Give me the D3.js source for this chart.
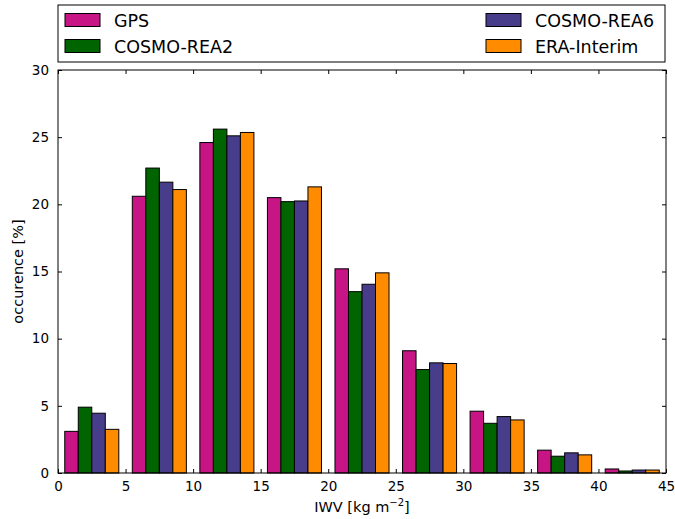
<!DOCTYPE html>
<html>
<head>
  <meta charset="utf-8">
  <style>
    body { margin: 0; background: #fff; }
    svg { display: block; font-family: "DejaVu Sans", sans-serif; }
  </style>
</head>
<body>
  <script src="https://d3js.org/d3.v7.min.js"></script>
  <script>
    // bin starts (width 5), series values in %
    const binStarts = [0, 5, 10, 15, 20, 25, 30, 35, 40];
    const seriesNames = ["GPS", "COSMO-REA2", "COSMO-REA6", "ERA-Interim"];
    const seriesColors = ["#c71585", "#006400", "#483d8b", "#ff8c00"];
    const gps  = [3.1, 20.6, 24.6, 20.5, 15.2, 9.1, 4.6, 1.7, 0.3];
    const rea2 = [4.9, 22.7, 25.6, 20.2, 13.5, 7.7, 3.7, 1.25, 0.15];
    const rea6 = [4.45, 21.65, 25.1, 20.25, 14.05, 8.2, 4.2, 1.5, 0.22];
    const era  = [3.25, 21.1, 25.35, 21.3, 14.9, 8.15, 3.95, 1.35, 0.22];
    const xTicks = [0, 5, 10, 15, 20, 25, 30, 35, 40, 45];
    const yTicks = [0, 5, 10, 15, 20, 25, 30];

    const seriesValues = [gps, rea2, rea6, era];
    const width = 675, height = 519;
    const m = { left: 58, right: 9, top: 70, bottom: 46 };

    const svg = d3.select("body").append("svg")
      .attr("width", width).attr("height", height);

    const x = d3.scaleLinear().domain([0, 45]).range([m.left, width - m.right]);
    const y = d3.scaleLinear().domain([0, 30]).range([height - m.bottom, m.top]);

    // bars: matplotlib-style grouped hist, 80% of bin, 4 bars each
    const binW = 5, barW = binW * 0.8 / 4;
    seriesValues.forEach((vals, si) => {
      svg.append("g").selectAll("rect")
        .data(vals)
        .join("rect")
        .attr("x", (d, i) => x(binStarts[i] + binW * 0.1 + si * barW))
        .attr("width", (d, i) => x(barW) - x(0))
        .attr("y", d => y(d))
        .attr("height", d => y(0) - y(d))
        .attr("fill", seriesColors[si])
        .attr("stroke", "#000")
        .attr("stroke-width", 1);
    });

    // axes with inward ticks on all four sides
    const tickStyle = g => {
      g.select(".domain").remove();
      g.selectAll("text").attr("font-size", 13.5).attr("fill", "#000")
        .attr("font-family", "DejaVu Sans, sans-serif");
      g.selectAll("line").attr("stroke", "#000");
    };
    svg.append("g").attr("transform", `translate(0,${y(0)})`)
      .call(d3.axisBottom(x).tickValues(xTicks).tickSize(-4).tickPadding(8))
      .call(tickStyle);
    svg.append("g").attr("transform", `translate(0,${y(30)})`)
      .call(d3.axisTop(x).tickValues(xTicks).tickSize(-4).tickFormat(""))
      .call(tickStyle);
    svg.append("g").attr("transform", `translate(${x(0)},0)`)
      .call(d3.axisLeft(y).tickValues(yTicks).tickSize(-4).tickPadding(9))
      .call(tickStyle);
    svg.append("g").attr("transform", `translate(${x(45)},0)`)
      .call(d3.axisRight(y).tickValues(yTicks).tickSize(-4).tickFormat(""))
      .call(tickStyle);

    svg.append("rect")
      .attr("x", x(0)).attr("y", y(30))
      .attr("width", x(45) - x(0)).attr("height", y(0) - y(30))
      .attr("fill", "none").attr("stroke", "#000").attr("stroke-width", 1);

    // axis labels
    const xl = svg.append("text")
      .attr("x", (x(0) + x(45)) / 2).attr("y", 512)
      .attr("text-anchor", "middle").attr("font-size", 14.5);
    xl.append("tspan").text("IWV [kg m");
    xl.append("tspan").attr("dy", -6).attr("font-size", 10).text("\u22122");
    xl.append("tspan").attr("dy", 6).text("]");

    svg.append("text")
      .attr("transform", `translate(23,${(y(0) + y(30)) / 2}) rotate(-90)`)
      .attr("text-anchor", "middle").attr("font-size", 14.5)
      .text("occurence [%]");

    // legend
    const lg = svg.append("g");
    lg.append("rect")
      .attr("x", 58).attr("y", 5).attr("width", 607).attr("height", 57)
      .attr("fill", "#fff").attr("stroke", "#000").attr("stroke-width", 1);
    const legPos = [[65, 20], [65, 46], [486, 20], [486, 46]];
    seriesNames.forEach((name, si) => {
      const [lx, ly] = legPos[si];
      lg.append("rect")
        .attr("x", lx).attr("y", ly - 6.5).attr("width", 35).attr("height", 13)
        .attr("fill", seriesColors[si]).attr("stroke", "#000");
      lg.append("text")
        .attr("x", lx + 49).attr("y", ly + 6.5)
        .attr("font-size", 17.5).text(name);
    });
  </script>
</body>
</html>
